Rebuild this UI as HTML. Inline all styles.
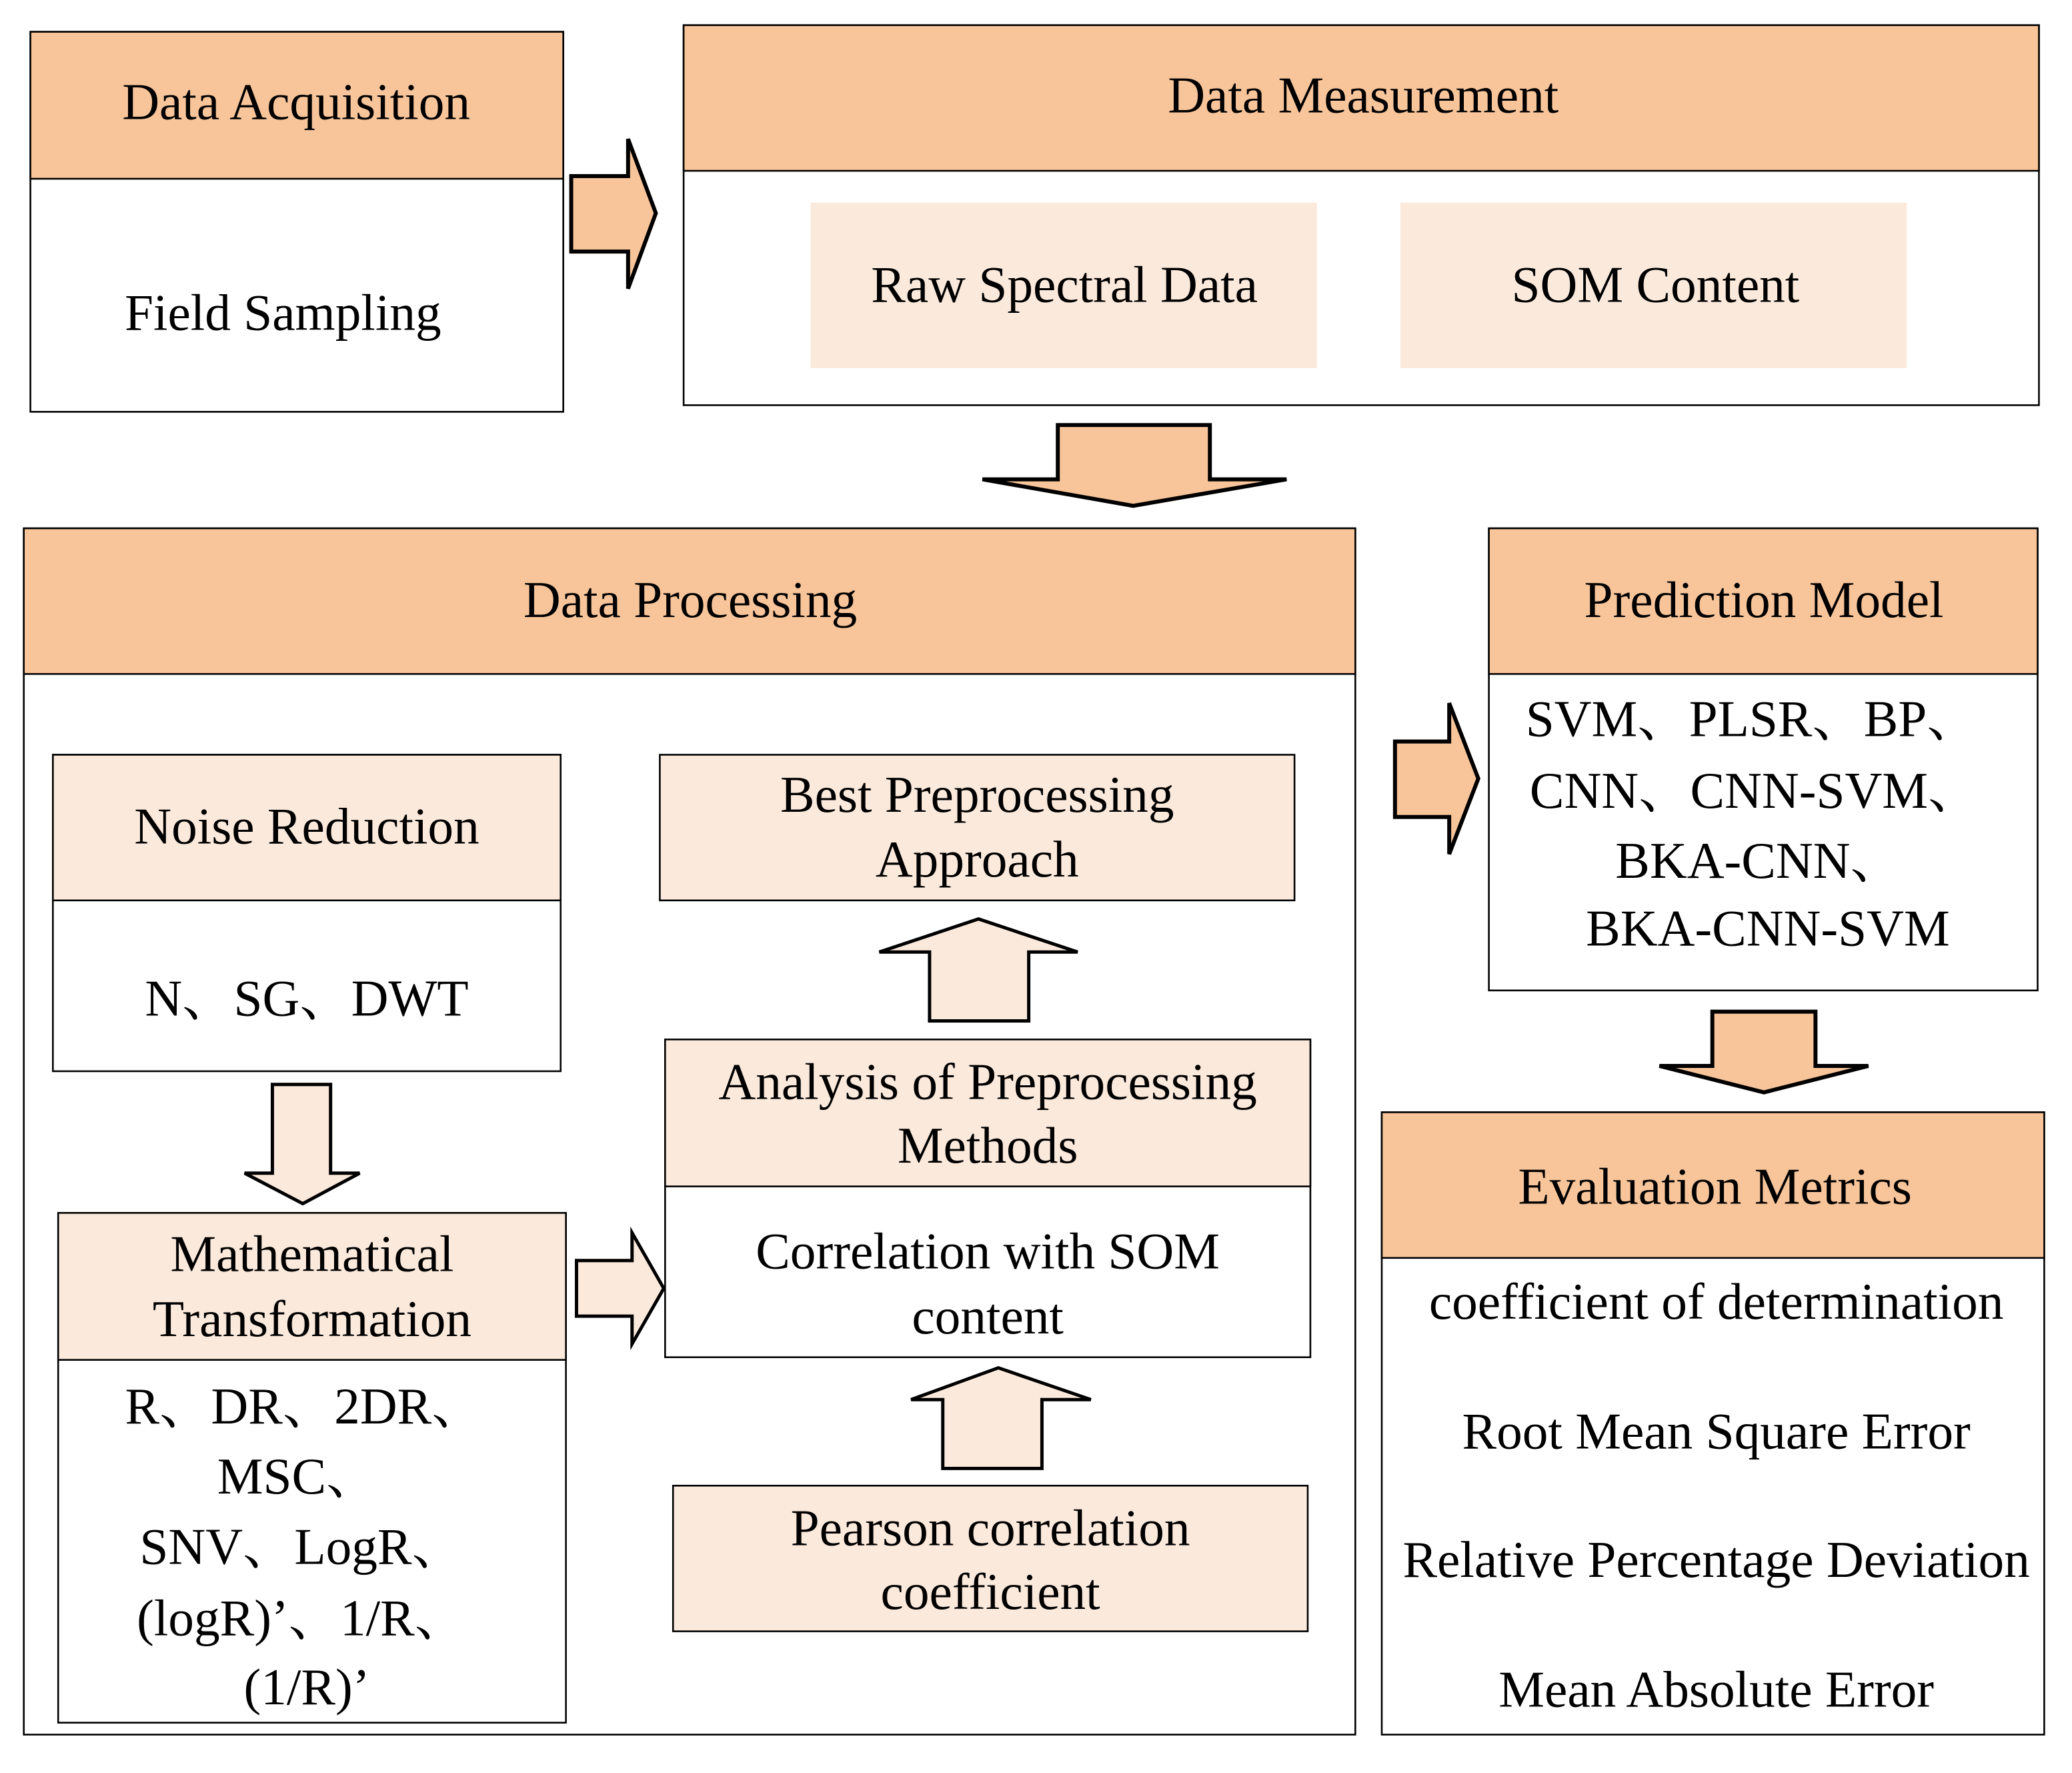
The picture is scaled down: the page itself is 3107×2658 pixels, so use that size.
<!DOCTYPE html>
<html><head><meta charset="utf-8"><style>
html,body{margin:0;padding:0;background:#fff;}
svg{display:block;}
text{font-family:"Liberation Serif","Noto Serif CJK SC",serif;font-size:39px;fill:#000;text-anchor:middle;}
</style></head><body>
<svg width="3107" height="2658" viewBox="0 0 1567 1339" preserveAspectRatio="none" xmlns="http://www.w3.org/2000/svg">
<rect width="1567" height="1339" fill="#fff"/>
<g stroke="#000" stroke-width="1.3">
<rect x="23" y="24" width="403" height="287" fill="#fff"/>
<rect x="23" y="24" width="403" height="111" fill="#f8c59b"/>
<rect x="517" y="19" width="1025" height="287" fill="#fff"/>
<rect x="517" y="19" width="1025" height="110" fill="#f8c59b"/>
<rect x="18" y="399" width="1007" height="911" fill="#fff"/>
<rect x="18" y="399" width="1007" height="110" fill="#f8c59b"/>
<rect x="1126" y="399" width="415" height="349" fill="#fff"/>
<rect x="1126" y="399" width="415" height="110" fill="#f8c59b"/>
<rect x="1045" y="840" width="501" height="470" fill="#fff"/>
<rect x="1045" y="840" width="501" height="110" fill="#f8c59b"/>
<rect x="40" y="570" width="384" height="239" fill="#fff"/>
<rect x="40" y="570" width="384" height="110" fill="#fbe9dc"/>
<rect x="44" y="916" width="384" height="385" fill="#fff"/>
<rect x="44" y="916" width="384" height="111" fill="#fbe9dc"/>
<rect x="503" y="785" width="488" height="240" fill="#fff"/>
<rect x="503" y="785" width="488" height="111" fill="#fbe9dc"/>
<rect x="499" y="570" width="480" height="110" fill="#fbe9dc"/>
<rect x="509" y="1122" width="480" height="110" fill="#fbe9dc"/>
</g>
<rect x="613" y="153" width="383" height="125" fill="#fbe9dc"/>
<rect x="1059" y="153" width="383" height="125" fill="#fbe9dc"/>
<g stroke="#000" stroke-width="3" fill="#f8c59b" stroke-linejoin="miter">
<polygon points="432,133 475,133 475,105 496,161 475,218 475,190 432,190"/>
<polygon points="800,321 915,321 915,362 973,362 857,382 743,362 800,362"/>
<polygon points="1055,560 1096,560 1096,531 1118,588 1096,645 1096,617 1055,617"/>
<polygon points="1295,764 1373,764 1373,805 1413,805 1334,825 1255,805 1295,805"/>
</g>
<g stroke="#000" stroke-width="2.5" fill="#fbe9dc">
<polygon points="206,819 250,819 250,886 272,886 229,909 185,886 206,886"/>
<polygon points="436,952 478,952 478,931 502,973 478,1015 478,994 436,994"/>
<polygon points="703,771 778,771 778,719 815,719 740,694 665,719 703,719"/>
<polygon points="713,1109 788,1109 788,1057 825,1057 755,1033 689,1057 713,1057"/>
</g>
<text x="224" y="90">Data Acquisition</text>
<text x="214" y="249">Field Sampling</text>
<text x="1031" y="85">Data Measurement</text>
<text x="805" y="228">Raw Spectral Data</text>
<text x="1252" y="228">SOM Content</text>
<text x="522" y="466">Data Processing</text>
<text x="1334" y="466">Prediction Model</text>
<text x="1325" y="556">SVM、PLSR、BP、</text>
<text x="1327" y="610">CNN、CNN-SVM、</text>
<text x="1330" y="663">BKA-CNN、</text>
<text x="1337" y="714">BKA-CNN-SVM</text>
<text x="1297" y="909">Evaluation Metrics</text>
<text x="1298" y="996">coefficient of determination</text>
<text x="1298" y="1094">Root Mean Square Error</text>
<text x="1298" y="1191">Relative Percentage Deviation</text>
<text x="1298" y="1289">Mean Absolute Error</text>
<text x="232" y="637">Noise Reduction</text>
<text x="232" y="767">N、SG、DWT</text>
<text x="236" y="960">Mathematical</text>
<text x="236" y="1009">Transformation</text>
<text x="230" y="1075">R、DR、2DR、</text>
<text x="225" y="1128">MSC、</text>
<text x="228" y="1181">SNV、LogR、</text>
<text x="228" y="1235">(logR)’、1/R、</text>
<text x="232" y="1287">(1/R)’</text>
<text x="747" y="830">Analysis of Preprocessing</text>
<text x="747" y="878">Methods</text>
<text x="747" y="958">Correlation with SOM</text>
<text x="747" y="1007">content</text>
<text x="739" y="613">Best Preprocessing</text>
<text x="739" y="662">Approach</text>
<text x="749" y="1167">Pearson correlation</text>
<text x="749" y="1215">coefficient</text>
</svg>
</body></html>
